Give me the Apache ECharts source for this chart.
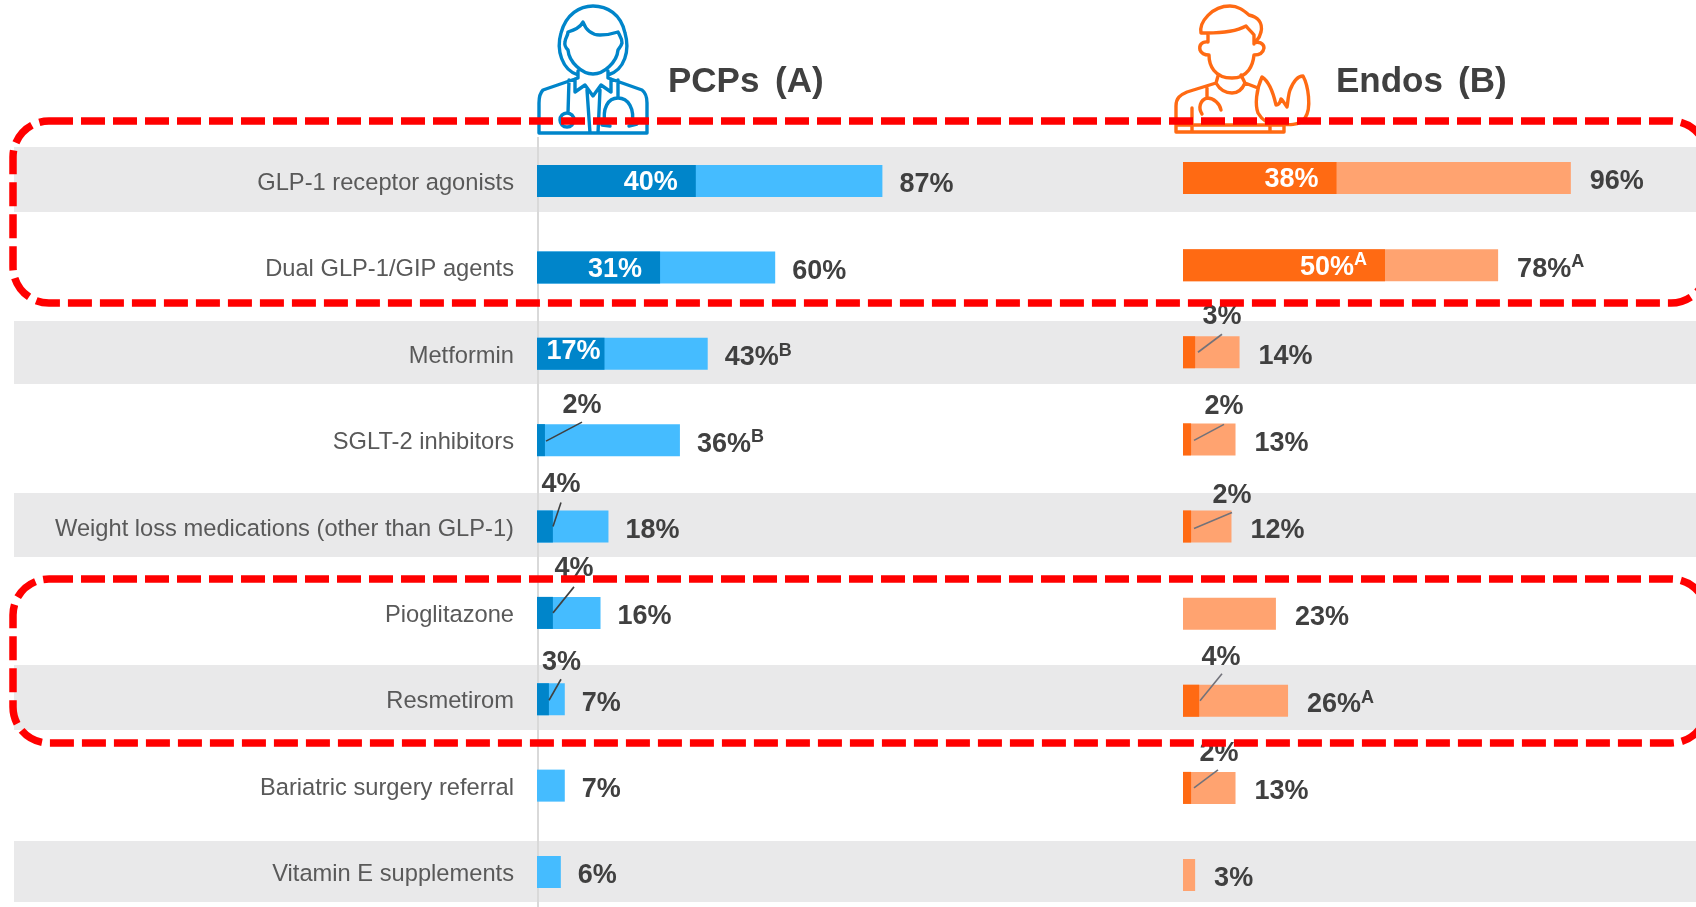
<!DOCTYPE html>
<html><head><meta charset="utf-8">
<style>html,body{margin:0;padding:0;background:#fff}#c{width:1696px;height:907px}</style>
<script src="https://cdn.jsdelivr.net/npm/echarts@6/dist/echarts.min.js"></script>
</head><body><div id="c"></div>
<script>
const categories = ['GLP-1 receptor agonists','Dual GLP-1/GIP agents','Metformin','SGLT-2 inhibitors','Weight loss medications (other than GLP-1)','Pioglitazone','Resmetirom','Bariatric surgery referral','Vitamin E supplements'];
const pcpTotal = [87,60,43,36,18,16,7,7,6];
const pcpFirst = [40,31,17,2,4,4,3,null,null];
const pcpSup   = ['','','B','B','','','','',''];
const endoTotal = [96,78,14,13,12,23,26,13,3];
const endoFirst = [38,50,3,2,2,null,4,2,null];
const endoSup   = ['','A','','','','','A','',''];
const endoFirstSup = ['','A','','','','','','',''];

// leader line layout in px, relative to the bar start: [row, startX, startY, endX, endY, textX, textY]
const pcpLeaders  = [[3,9,1,45,-18,45,-35],[4,16,0,24,-24,24,-42],[5,16,0,37,-26,37,-44],[6,12,1,24,-20,24.5,-37]];
const endoLeaders = [[2,15,0,39,-18,39,-36],[3,11,1,41,-15,41,-33],[4,11,2,49,-14,49,-31],[6,17,0,39,-27,38,-43],[7,11,0,35,-18,36,-34]];

const FONT = '"Liberation Sans", Arial, sans-serif';
const TXT = '#404040';
const BLUE = '#0085CA', BLUE_L = '#45BCFF', OR = '#FF6A13', OR_L = '#FFA370';

function richStyles(color){
  return {
    v:{fontFamily:FONT,fontSize:27,fontWeight:'bold',color,lineHeight:32},
    s:{fontFamily:FONT,fontSize:18,fontWeight:'bold',color,lineHeight:32,verticalAlign:'top',padding:[0,0,8,0]}
  };
}
function seriesFor(idx,total,first,sup,firstSup,leaders,dark,light,lineColor,dist){
  return [
    {type:'bar',xAxisIndex:idx,yAxisIndex:idx,barWidth:32,barGap:'-100%',z:2,
     itemStyle:{color:light},data:total,silent:true,
     label:{show:true,position:'right',distance:dist,offset:[0,4],rich:richStyles(TXT),
       formatter:p=>'{v|'+p.value+'%}'+(sup[p.dataIndex]?'{s|'+sup[p.dataIndex]+'}':'')}},
    {type:'bar',xAxisIndex:idx,yAxisIndex:idx,barWidth:32,barGap:'-100%',z:3,
     itemStyle:{color:dark},silent:true,
     data:first.map((v,i)=>({value:v,label:{show:v>=10,offset:v<20?[14,-2]:[0,2]}})),
     label:{position:'insideRight',distance:18,rich:richStyles('#fff'),
       formatter:p=>'{v|'+p.value+'%}'+(firstSup[p.dataIndex]?'{s|'+firstSup[p.dataIndex]+'}':'')}},
    {type:'custom',xAxisIndex:idx,yAxisIndex:idx,z:4,silent:true,
     data:leaders.map(l=>[first[l[0]],categories[l[0]]]),
     encode:{x:0,y:1},
     renderItem:(params,api)=>{
       const l=leaders[params.dataIndex];
       const o=api.coord([0,api.value(1)]);
       return {type:'group',children:[
         {type:'line',shape:{x1:o[0]+l[1],y1:o[1]+l[2],x2:o[0]+l[3],y2:o[1]+l[4]},style:{stroke:lineColor,lineWidth:1.6}},
         {type:'text',style:{text:first[l[0]]+'%',x:o[0]+l[5],y:o[1]+l[6],align:'center',verticalAlign:'middle',
            fontFamily:FONT,fontSize:27,fontWeight:'bold',fill:TXT}}
       ]};
     }}
  ];
}

const bands = [[147,65],[321,63],[493,64],[665,65],[841,61]];
const boxes = [[121,182],[579,164]];
const iconA = [
 'M578 75C562 70 556 50 561 33C566 14 580 6 593 6C607 6 621 14 625 33C630 50 625 70 608 75',
 'M568 32C574 30 580 28 583 22C586 30 592 35 600 35C607 35 612 34 618 32C620 36 622 38 622 43C621 47 619 48 618 50C617 62 604 74 593 74C582 74 569 62 568 50C566 48 564 46 565 42C565 38 568 36 568 32Z',
 'M578 71L578 78L543 90C540 93 539 98 539 103L539 133L647 133L647 103C647 98 646 93 642 90L608 78L608 71',
 'M575 79L575 92L585 85L593 96L601 85L611 92L611 79',
 'M587 90L590 133M600 90L598 133',
 'M569 80L568 113M618 80L618 98',
 'M605 125C602 108 608 98 618 98C628 98 635 108 632 125M602 125L610 126M629 126L637 124',
 'M574 120C574 124 571 127 567 127C563 127 560 124 560 120C560 116 563 113 567 113C571 113 574 116 574 120Z'
].join(' ');
const iconB = [
 'M1207 33L1201 33C1199 22 1212 6 1230 6C1238 6 1243 10 1249 15C1258 17 1263 23 1261 32C1260 36 1259 38 1257 40',
 'M1207 33C1220 33 1235 32 1246 26C1249 30 1252 32 1254 35L1254 44',
 'M1208 34L1208 42C1201 41 1199 46 1200 50C1202 55 1206 55 1209 55C1209 65 1214 78 1232 78C1248 78 1253 65 1254 55C1258 55 1263 54 1264 48C1264 43 1258 41 1254 43',
 'M1218 76L1216 83C1220 90 1226 93 1232 93C1238 93 1242 90 1245 83L1241 75',
 'M1216 83L1187 92C1180 95 1176 98 1176 106L1176 132L1284 132L1284 122',
 'M1245 83L1258 88',
 'M1262 77C1256 90 1255 105 1258 113C1262 120 1268 124 1276 124C1288 125 1300 126 1305 118C1312 108 1308 85 1303 76C1298 76 1294 80 1290 90C1288 96 1288 102 1287 107C1284 103 1282 99 1281 99C1280 103 1278 105 1276 105C1274 96 1270 82 1262 77Z',
 'M1207 88L1207 98C1200 100 1198 108 1202 114M1207 98C1214 98 1220 104 1221 110',
 'M1192 108L1192 132M1178 125L1284 125M1270 122L1270 132'
].join(' ');
echarts.graphic.registerShape('iconA', echarts.graphic.extendPath(iconA,{}));
echarts.graphic.registerShape('iconB', echarts.graphic.extendPath(iconB,{}));

const graphic = [];
const head = (text,x)=>graphic.push({type:'text',z:6,silent:true,style:{text,x,y:82,verticalAlign:'middle',fontFamily:FONT,fontSize:35,fontWeight:'bold',fill:TXT}});
bands.forEach(b=>graphic.push({type:'rect',z:-5,silent:true,shape:{x:14,y:b[0],width:1682,height:b[1]},style:{fill:'#E9E9EA'}}));
graphic.push({type:'line',z:-4,silent:true,shape:{x1:538,y1:137,x2:538,y2:907},style:{stroke:'#D9D9D9',lineWidth:2}});
graphic.push({type:'iconA',z:6,silent:true,style:{fill:'none',stroke:BLUE,lineWidth:3.4,lineJoin:'round',lineCap:'round'}});
graphic.push({type:'iconB',z:6,silent:true,style:{fill:'none',stroke:OR,lineWidth:3.4,lineJoin:'round',lineCap:'round'}});
head('PCPs',668); head('(A)',775); head('Endos',1336); head('(B)',1458);
boxes.forEach(b=>graphic.push({type:'rect',z:50,silent:true,shape:{x:13,y:b[0],width:1694,height:b[1],r:36},
  style:{fill:'none',stroke:'#FF0000',lineWidth:7.5,lineDash:[24,8]}}));

const chart = echarts.init(document.getElementById('c'),null,{renderer:'canvas'});
chart.setOption({
  animation:false,
  backgroundColor:'#fff',
  graphic:{elements:graphic},
  grid:[
    {left:537,top:181,width:397,height:691},
    {left:1183,top:178,width:404,height:697}
  ],
  xAxis:[
    {type:'value',gridIndex:0,min:0,max:100,show:false},
    {type:'value',gridIndex:1,min:0,max:100,show:false}
  ],
  yAxis:[
    {type:'category',gridIndex:0,inverse:true,boundaryGap:false,data:categories,
     axisLine:{show:false},axisTick:{show:false},
     axisLabel:{margin:23,interval:0,formatter:v=>'{a|'+v+'}',
       rich:{a:{fontFamily:FONT,fontSize:23.7,color:'#595959',lineHeight:28,padding:[5,0,0,0]}}}},
    {type:'category',gridIndex:1,inverse:true,boundaryGap:false,data:categories,show:false}
  ],
  series:[
    ...seriesFor(0,pcpTotal,pcpFirst,pcpSup,pcpSup.map(()=>''),pcpLeaders,BLUE,BLUE_L,'#404040',17),
    ...seriesFor(1,endoTotal,endoFirst,endoSup,endoFirstSup,endoLeaders,OR,OR_L,'#72727A',19)
  ]
});
</script></body></html>
